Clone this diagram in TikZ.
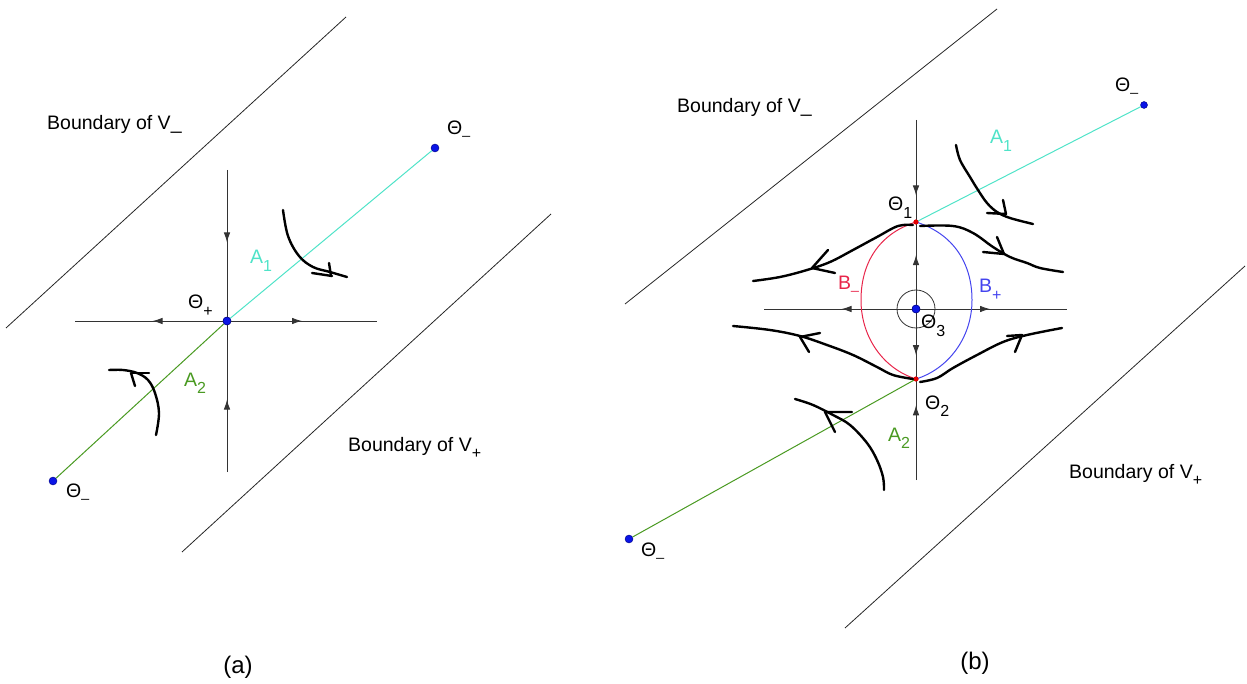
\documentclass[tikz,border=0pt]{standalone}
\usepackage{fontspec}
\setmainfont{Liberation Sans}
\usetikzlibrary{arrows.meta,decorations.markings}
\definecolor{acyan}{HTML}{4FE3C8}
\definecolor{agreen}{HTML}{4A9A22}
\definecolor{bred}{HTML}{E8254A}
\definecolor{bblue}{HTML}{4444EE}
\definecolor{dotblue}{HTML}{0A14E6}
\newcommand\sbs[1]{\raisebox{-0.38em}{\fontsize{16}{16}\selectfont #1}}
\newcommand\usc{{\fontsize{14}{14}\selectfont\_}}
\tikzset{
  thinline/.style={line width=0.8pt, black!85},
  axisline/.style={line width=0.9pt, black!80},
  hand/.style={line width=2.4pt, line cap=round, line join=round},
  lbl/.style={anchor=base west, inner sep=0, font=\fontsize{19.5}{22}\selectfont},
  midarr/.style={postaction=decorate, decoration={markings, mark=at position #1 with {\arrow{Latex[length=10pt,width=6.5pt]}}}},
  bigdot/.style={circle, fill=dotblue, draw=blue!50!black, line width=0.4pt, minimum size=8pt, inner sep=0},
  reddot/.style={circle, fill=red!90!black, minimum size=5pt, inner sep=0},
  caption/.style={font=\fontsize{24}{26}\selectfont, inner sep=0},
}
\begin{document}
\begin{tikzpicture}[x=1pt,y=-1pt]
\useasboundingbox (0,0) rectangle (1247,684);
% ================= panel (a) =================
\coordinate (bLa1) at (6,328);   \coordinate (bLa2) at (346,17);
\coordinate (bLb1) at (182,552); \coordinate (bLb2) at (551,214);
\draw[thinline] (bLa1) -- (bLa2);
\draw[thinline] (bLb1) -- (bLb2);
\coordinate (aL) at (75,321); \coordinate (aR) at (377,321);
\coordinate (aT) at (227,170); \coordinate (aB) at (227,472);
\node[bigdot] (C) at (227,321) {};
\node[bigdot] (Ta) at (435,148) {};
\node[bigdot] (Tb) at (53,481) {};
\draw[axisline, midarr=0.49] (C.center) -- (aL);
\draw[axisline, midarr=0.5] (C.center) -- (aR);
\draw[axisline, midarr=0.48] (aT) -- (C.center);
\draw[axisline, midarr=0.48] (aB) -- (C.center);
\draw[acyan, line width=1pt] (C) -- (Ta);
\draw[agreen, line width=1pt] (C) -- (Tb);
\node[bigdot] at (C) {};
% hand curves
\draw[hand] plot[smooth, tension=0.6] coordinates {(283,210) (288,236) (299,256) (313,267) (330,272) (347,277)};
\draw[hand] (312,273) -- (332,276);
\draw[hand] (329,263) -- (331,276);
\draw[hand] plot[smooth, tension=0.6] coordinates {(156,435) (159,413) (155,393) (148,380) (137,373) (123,370) (109,370)};
\draw[hand] (131,373) -- (135,386);
\draw[hand] (132,373) -- (149,373);
% labels
\node[lbl] (la1) at (47,130) {Boundary of V\_};
\node[lbl] (la2) at (348,451) {Boundary of V\sbs{+}};
\node[lbl] (la3) at (188,309) {Θ\sbs{+}};
\node[lbl, text=acyan] (la4) at (250,264) {A\sbs{1}};
\node[lbl, text=agreen] (la5) at (184,386) {A\sbs{2}};
\node[lbl] (la6) at (447,135) {Θ\usc};
\node[lbl] (la7) at (66,497) {Θ\usc};
\node[caption] (capa) at (238,667) {(a)};
% ================= panel (b) =================
\coordinate (bRa1) at (625,304); \coordinate (bRa2) at (997,9);
\coordinate (bRb1) at (845,628); \coordinate (bRb2) at (1245,266);
\draw[thinline] (bRa1) -- (bRa2);
\draw[thinline] (bRb1) -- (bRb2);
\coordinate (rT) at (916,120); \coordinate (rB) at (916,480);
\coordinate (rL) at (764,309); \coordinate (rR) at (1067,309);
\node[bigdot] (T3) at (916,309) {};
\node[reddot] (T1) at (916,222) {};
\node[reddot] (T2) at (916,379) {};
\node[bigdot, minimum size=7pt] (Tc) at (1144,105) {};
\node[bigdot] (Td) at (629,539) {};
\draw[axisline, midarr=0.49] (T3.center) -- (rL);
\draw[axisline, midarr=0.49] (T3.center) -- (rR);
\draw[axisline, midarr=0.74] (rT) -- (T1.center);
\draw[axisline, midarr=0.62] (T3.center) -- (T1.center);
\draw[axisline, midarr=0.66] (T3.center) -- (T2.center);
\draw[axisline, midarr=0.74] (rB) -- (T2.center);
\draw[axisline] (T1.center) -- (T2.center);
\draw[line width=0.8pt, black!80] (T3.center) circle[radius=19];
\draw[bred, line width=1pt] (T1.center) .. controls (878,234) and (861,264) .. (861,300) .. controls (861,338) and (884,369) .. (T2.center);
\draw[bblue, line width=1pt] (T1.center) .. controls (954,234) and (972,264) .. (972,300) .. controls (972,338) and (948,369) .. (T2.center);
\draw[acyan, line width=1pt] (T1.center) -- (Tc);
\draw[agreen, line width=1pt] (T2.center) -- (Td);
\node[bigdot] at (T3) {};
\node[reddot] at (T1) {};
\node[reddot] at (T2) {};
% hand curves
\draw[hand] plot[smooth, tension=0.6] coordinates {(956,145) (960,160) (970,177) (978,190) (987,203) (997,212) (1010,218) (1033,224)};
\draw[hand] (1003,200) -- (1006,214) -- (987,213);
\draw[hand] plot[smooth, tension=0.6] coordinates {(920,226) (953,226) (973,233) (993,247) (1010,257) (1027,263) (1040,268) (1063,272)};
\draw[hand] (997,237) -- (1004,254) -- (983,252);
\draw[hand] plot[smooth, tension=0.6] coordinates {(913,225) (898,226) (877,237) (853,250) (830,262) (807,270) (780,277) (753,281)};
\draw[hand] (828,250) -- (812,268) -- (835,273);
\draw[hand] plot[smooth, tension=0.6] coordinates {(733,326) (770,330) (800,336) (827,345) (853,355) (877,367) (893,375) (913,379)};
\draw[hand] (820,333) -- (800,337) -- (809,352);
\draw[hand] plot[smooth, tension=0.6] coordinates {(920,382) (937,378) (953,368) (977,355) (1003,342) (1027,335) (1062,328)};
\draw[hand] (1007,336) -- (1022,335) -- (1015,352);
\draw[hand] plot[smooth, tension=0.6] coordinates {(795,399) (813,405) (833,415) (850,425) (867,443) (877,460) (883,477) (884,490)};
\draw[hand] (852,412) -- (825,412) -- (835,432);
% labels
\node[lbl] (lb1) at (677,113) {Boundary of V\_};
\node[lbl] (lb2) at (1069,478) {Boundary of V\sbs{+}};
\node[lbl] (lb3) at (888,211) {Θ\sbs{1}};
\node[lbl] (lb4) at (925,409) {Θ\sbs{2}};
\node[lbl] (lb5) at (921,329) {Θ\sbs{3}};
\node[lbl, text=acyan] (lb6) at (990,144) {A\sbs{1}};
\node[lbl, text=agreen] (lb7) at (888,441) {A\sbs{2}};
\node[lbl, text=bred] (lb8) at (838,290) {B\usc};
\node[lbl, text=bblue] (lb9) at (979,293) {B\sbs{+}};
\node[lbl] (lb10) at (1115,92) {Θ\usc};
\node[lbl] (lb11) at (641,556) {Θ\usc};
\node[caption] (capb) at (975,663) {(b)};
\end{tikzpicture}
\end{document}
